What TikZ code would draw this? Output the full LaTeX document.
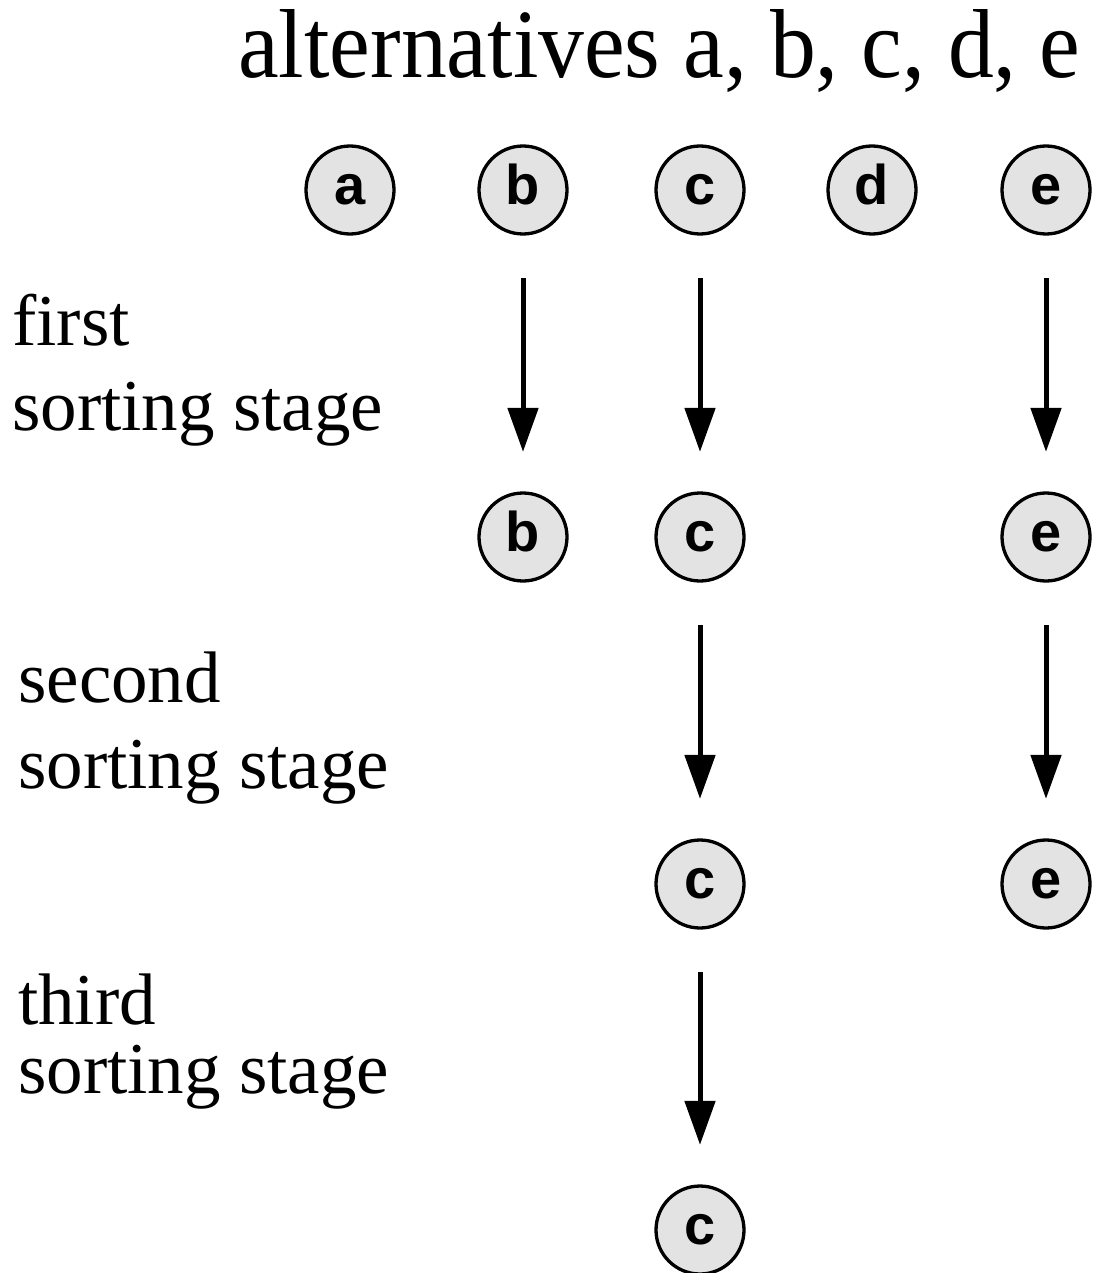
\documentclass[tikz,border=0pt]{standalone}
\usepackage{fontspec}
\setmainfont{Liberation Serif}
\newfontfamily\circfont{Liberation Sans}
\usetikzlibrary{arrows.meta}
\tikzset{
  alt/.style={circle, draw=black, line width=3.3pt, fill=gray!22, minimum size=88pt, inner sep=0pt,
    text height=29pt, text depth=0pt,
    font=\circfont\bfseries\fontsize{56}{56}\selectfont},
  stagelabel/.style={anchor=base west, inner sep=0pt, font=\fontsize{73}{73}\selectfont},
  titlelabel/.style={anchor=base west, inner sep=0pt, font=\fontsize{98}{98}\selectfont},
  arr/.style={line width=5pt, -{Triangle[length=44pt,width=30pt]}, shorten <=42.5pt, shorten >=39.5pt}
}
\begin{document}
\begin{tikzpicture}[x=1pt,y=-1pt]
\useasboundingbox (0,0) rectangle (1092,1273);
\node[titlelabel] (title) at (238,78) {\scalebox{0.935}[1]{alternatives a, b, c, d, e}};
% row 1
\node[alt] (a1) at (350,190) {a};
\node[alt] (b1) at (523,190) {b};
\node[alt] (c1) at (700,190) {c};
\node[alt] (d1) at (872,190) {d};
\node[alt] (e1) at (1046,190) {e};
% row 2
\node[alt] (b2) at (523,537) {b};
\node[alt] (c2) at (700,537) {c};
\node[alt] (e2) at (1046,537) {e};
% row 3
\node[alt] (c3) at (700,884) {c};
\node[alt] (e3) at (1046,884) {e};
% row 4
\node[alt] (c4) at (700,1230) {c};
% arrows
\draw[arr] (b1.south) -- (b2.north);
\draw[arr] (c1.south) -- (c2.north);
\draw[arr] (e1.south) -- (e2.north);
\draw[arr] (c2.south) -- (c3.north);
\draw[arr] (e2.south) -- (e3.north);
\draw[arr] (c3.south) -- (c4.north);
% labels
\node[stagelabel] (l1a) at (12,345) {first};
\node[stagelabel] (l1b) at (12,430) {sorting stage};
\node[stagelabel] (l2a) at (18,702) {second};
\node[stagelabel] (l2b) at (18,788) {sorting stage};
\node[stagelabel] (l3a) at (18,1024) {third};
\node[stagelabel] (l3b) at (18,1093) {sorting stage};
\end{tikzpicture}
\end{document}
